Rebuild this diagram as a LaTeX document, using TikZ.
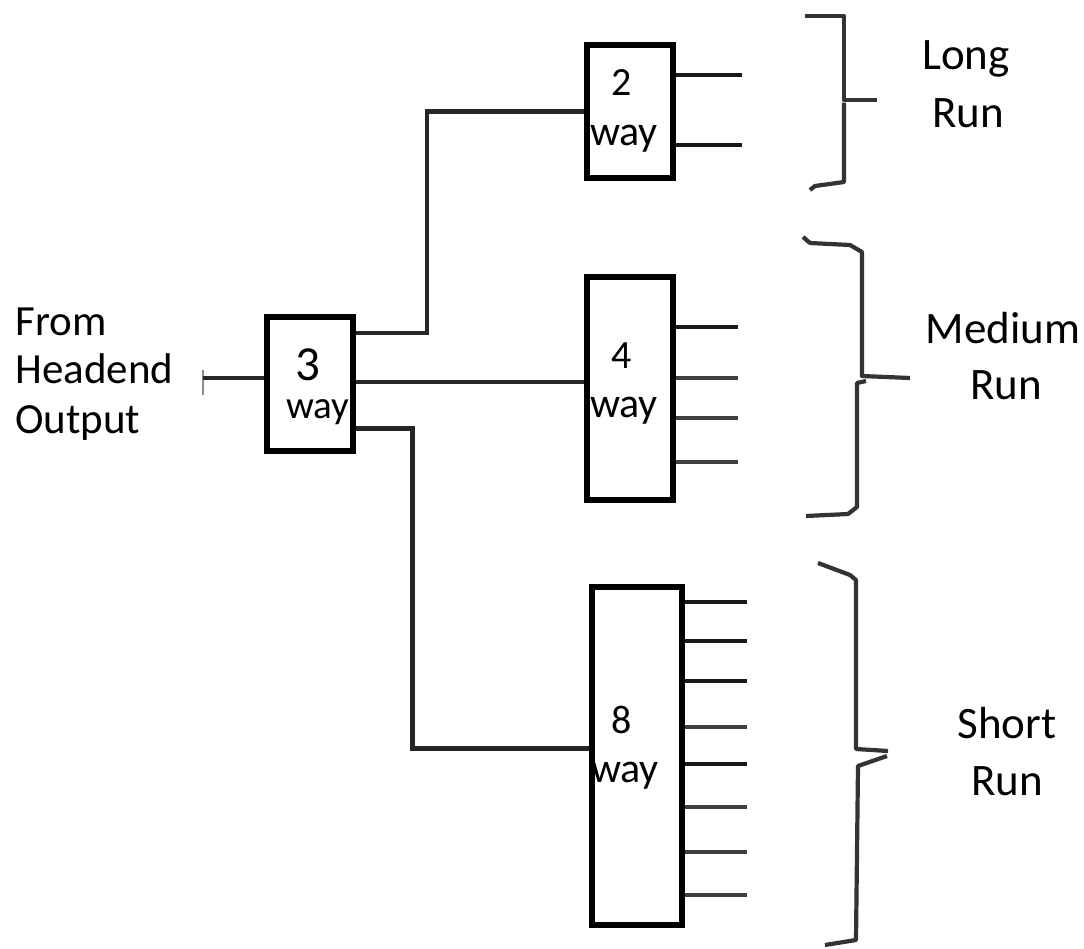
\documentclass[tikz,border=0pt]{standalone}
\usepackage{fontspec}
\setmainfont{Carlito}
\usetikzlibrary{positioning}

\tikzset{
  splitter/.style={draw=black, line width=2.7pt, fill=white, inner sep=0pt, minimum width=43pt},
  cable/.style={draw=black!85, line width=2.1pt},
  stub/.style={draw=black!90, line width=2.4pt},
  thinstub/.style={draw=black!75, line width=1.6pt},
  bracket/.style={draw=black!80, line width=2.1pt, line join=round},
  lbl/.style={font=\fontsize{21.5}{24}\selectfont, inner sep=0pt},
  runlbl/.style={font=\fontsize{22.5}{28}\selectfont, inner sep=0pt},
  waylbl/.style={font=\fontsize{21}{24}\selectfont, inner sep=0pt},
  numlbl/.style={font=\fontsize{20}{24}\selectfont, inner sep=0pt},
}

\begin{document}
\begin{tikzpicture}[x=0.5pt, y=-0.5pt]
  \useasboundingbox (0,0) rectangle (1084,949);

  % splitters
  \node[splitter, minimum height=67pt] (three) at (310,384) {};
  \node[splitter, minimum height=66.5pt] (two) at (630,111.5) {};
  \node[splitter, minimum height=111.5pt] (four) at (630,388.5) {};
  \node[splitter, minimum width=45pt, minimum height=169pt] (eight) at (637,756) {};

  \node[numlbl, font=\fontsize{24.5}{24}\selectfont, anchor=base] (num3) at (308,380) {3};
  \node[waylbl, font=\fontsize{19.5}{24}\selectfont, anchor=base] (way3) at (318,418) {way};
  \node[numlbl, anchor=base] (num2) at (622,95) {2};
  \node[waylbl, anchor=base] (way2) at (624,145) {way};
  \node[numlbl, anchor=base] (num4) at (622,368) {4};
  \node[waylbl, anchor=base] (way4) at (624,417) {way};
  \node[numlbl, anchor=base] (num8) at (622,733) {8};
  \node[waylbl, anchor=base] (way8) at (625,782) {way};

  % input from headend
  \coordinate (src) at (203,378);
  \draw[black!45, line width=1pt] ([yshift=4pt]src) -- ([yshift=-8.5pt]src);
  \draw[cable] (src) -- (src -| three.west);

  % feeds
  \draw[cable] (three.east |- 0,333) -- (427,333) |- (two.west);
  \draw[cable] (three.east |- 0,382) -- (four.west |- 0,382);
  \draw[cable, line width=2.5pt] (three.east |- 0,428) -- (412,428) |- (eight.west |- 0,748);

  % outputs
  \foreach \y in {75,145}
    \draw[stub] (two.east |- 0,\y) -- (742,\y);
  \foreach \y/\s in {327/stub, 378/thinstub, 418/thinstub, 462/thinstub}
    \draw[\s] (four.east |- 0,\y) -- (738,\y);
  \foreach \y/\s in {602/stub, 641/stub, 681/stub, 727/thinstub, 764/stub, 807/thinstub, 852/thinstub, 895/thinstub}
    \draw[\s] (eight.east |- 0,\y) -- (747,\y);

  % braces
  \draw[bracket] (805,16) -- (844,16) -- (844,100) -- (877,100);
  \draw[bracket] (844,102.5) -- (844,182) -- (815,186) -- (810,190);
  \draw[bracket] (803,237) -- (810,243) -- (850,245) -- (862,252) -- (862,376) -- (910,378);
  \draw[bracket] (866,381) -- (857,383) -- (857,507) -- (848,514) -- (806,516);
  \draw[bracket] (818,563) -- (850,575) -- (856,580) -- (856,749) -- (888,751);
  \draw[bracket] (887,756) -- (858,766) -- (856,940) -- (825,945);

  % labels
  \node[lbl, anchor=base west] (from) at (15,335) {From};
  \node[lbl, anchor=base west] (headend) at (15,383) {Headend};
  \node[lbl, anchor=base west] (output) at (15,433) {Output};

  \node[runlbl, anchor=base] (long) at (966,69) {Long};
  \node[runlbl, anchor=base] (longrun) at (968,127) {Run};
  \node[runlbl, anchor=base] (medium) at (1003,343) {Medium};
  \node[runlbl, anchor=base] (mediumrun) at (1006,399) {Run};
  \node[runlbl, anchor=base] (short) at (1007,738) {Short};
  \node[runlbl, anchor=base] (shortrun) at (1007,795) {Run};
\end{tikzpicture}
\end{document}
